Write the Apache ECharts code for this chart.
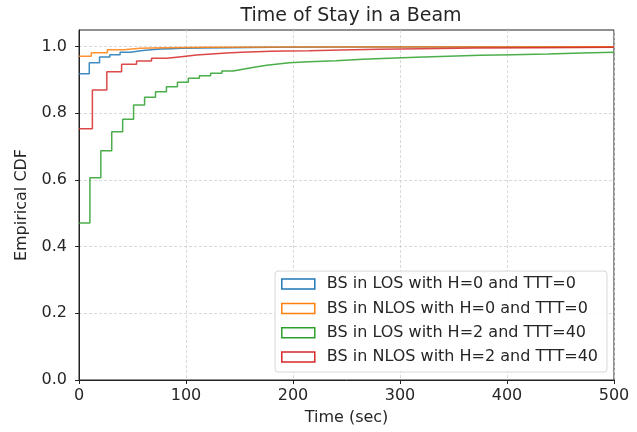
<!DOCTYPE html>
<html>
<head>
<meta charset="utf-8">
<script src="https://cdn.jsdelivr.net/npm/echarts@6/dist/echarts.min.js"></script>
<style>
  html, body { margin: 0; padding: 0; background: #fff; }
  #main { width: 637px; height: 432px; }
</style>
</head>
<body>
<div id="main"></div>
<script>
// names of the four curves (legend order)
var seriesNames = [
    'BS in LOS with H=0 and TTT=0',
    'BS in NLOS with H=0 and TTT=0',
    'BS in LOS with H=2 and TTT=40',
    'BS in NLOS with H=2 and TTT=40'
];
var colors = ['#1f77b4', '#ff7f0e', '#2ca02c', '#d62728'];

// step CDF points [time, cdf]
var losH0 = [[0,0.919],[9.6,0.952],[19.2,0.969],[28.8,0.976],[38.4,0.983],[48,0.988],[57.6,0.991],[67.2,0.993],
    [76.8,0.994],[86.4,0.995],[96,0.996],[115,0.997],[140,0.998],[180,0.999],[250,1.0],[500,1.0]];
var nlosH0 = [[0,0.971],[11.5,0.982],[26.5,0.991],[42,0.995],[57,0.997],[80,0.998],[120,0.999],[200,1.0],[500,1.0]];
var losH2 = [[0,0.471],[10.2,0.607],[20.4,0.688],[30.6,0.745],[40.8,0.782],[51,0.825],[61.3,0.848],[71.5,0.865],
    [81.7,0.880],[92,0.893],[102.2,0.905],[112.5,0.913],[123,0.920],[133.5,0.927],[144,0.933],[154.5,0.939],
    [165,0.944],[175.5,0.948],[186,0.952],[196.5,0.955],[215,0.958],[240,0.962],[265,0.965],[290,0.968],
    [315,0.971],[345,0.974],[375,0.976],[405,0.978],[438,0.981],[470,0.983],[500,0.984]];
var nlosH2 = [[0,0.754],[12.5,0.870],[26,0.925],[39.8,0.947],[53.8,0.957],[67.8,0.965],[81.8,0.970],[95.8,0.975],
    [109.8,0.978],[123.8,0.981],[137.8,0.983],[151.8,0.985],[165.8,0.986],[179.8,0.987],[193.8,0.988],
    [215,0.990],[245,0.992],[280,0.994],[320,0.996],[370,0.997],[430,0.998],[500,0.999]];
var allData = [losH0, nlosH0, losH2, nlosH2];

var xTicks = [0, 100, 200, 300, 400, 500];
var yTicks = [0, 0.2, 0.4, 0.6, 0.8, 1.0];

var myChart = echarts.init(document.getElementById('main'));
var font = 'DejaVu Sans';
var textColor = '#262626';

var option = {
    animation: false,
    backgroundColor: '#fff',
    title: {
        text: 'Time of Stay in a Beam',
        left: 346,
        textAlign: 'center',
        top: 2,
        textStyle: { fontFamily: font, fontSize: 19, fontWeight: 'normal', color: textColor }
    },
    legend: {
        orient: 'vertical',
        right: 30,
        bottom: 60,
        padding: [5, 9, 7, 6],
        backgroundColor: 'rgba(255,255,255,0.85)',
        borderColor: '#d8d8d8',
        borderWidth: 1,
        borderRadius: 3,
        itemWidth: 33,
        itemHeight: 10,
        itemGap: 8.3,
        textStyle: { fontFamily: font, fontSize: 16, color: textColor, lineHeight: 16, padding: [0, 0, 0, 7] },
        data: seriesNames.map(function (n, i) {
            return {
                name: n,
                icon: 'rect',
                itemStyle: { color: '#fff', borderColor: colors[i], borderWidth: 1.5 }
            };
        })
    },
    grid: {
        left: 79, right: 23, top: 30, bottom: 52,
        show: true, borderColor: '#222', borderWidth: 1, backgroundColor: 'transparent'
    },
    xAxis: {
        type: 'value',
        min: 0, max: 500, interval: 100,
        name: 'Time (sec)',
        nameLocation: 'middle',
        nameGap: 30,
        nameTextStyle: { fontFamily: font, fontSize: 16, color: textColor },
        axisLine: { lineStyle: { color: '#222' } },
        axisTick: { show: true, length: 4, lineStyle: { color: '#222' }, customValues: xTicks },
        axisLabel: { fontFamily: font, fontSize: 16, color: textColor, margin: 8, customValues: xTicks },
        splitLine: { show: true, lineStyle: { color: '#cfcfcf', type: [3, 2], width: 0.8 } }
    },
    yAxis: {
        type: 'value',
        min: 0, max: 1.05, interval: 0.2,
        name: 'Empirical CDF',
        nameLocation: 'middle',
        nameGap: 49,
        nameTextStyle: { fontFamily: font, fontSize: 16, color: textColor },
        axisLine: { show: true, lineStyle: { color: '#222' } },
        axisTick: { show: true, length: 4, lineStyle: { color: '#222' }, customValues: yTicks },
        axisLabel: {
            fontFamily: font, fontSize: 16, color: textColor, margin: 12,
            customValues: yTicks,
            formatter: function (v) { return v.toFixed(1); }
        },
        splitLine: { show: true, lineStyle: { color: '#cfcfcf', type: [3, 2], width: 0.8 } }
    },
    series: allData.map(function (d, i) {
        return {
            name: seriesNames[i],
            type: 'line',
            step: 'end',
            symbol: 'none',
            data: d,
            lineStyle: { color: colors[i], width: 1.5, opacity: 0.85 },
            itemStyle: { color: colors[i] },
            z: 2 + i
        };
    })
};
myChart.setOption(option);
</script>
</body>
</html>
